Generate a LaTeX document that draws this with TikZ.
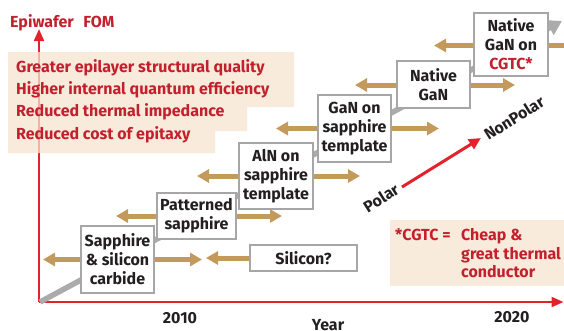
\documentclass[tikz,border=0pt]{standalone}
\usepackage{fontspec}
\setmainfont{Fira Sans}
\usetikzlibrary{arrows.meta}
\definecolor{axisred}{HTML}{E2232C}
\definecolor{txtred}{HTML}{C3202E}
\definecolor{tanc}{HTML}{C49A5C}
\definecolor{beige}{HTML}{F9EBDB}
\definecolor{beigeA}{HTML}{F7E4CF}
\definecolor{arrgray}{HTML}{ABABAB}
\definecolor{boxgray}{HTML}{A6A6A6}
\definecolor{ink}{HTML}{231F20}
\tikzset{
 txt/.style={font=\fontsize{16}{19}\selectfont\bfseries, inner sep=0pt},
 redtxt/.style={txt, text=txtred},
 stage/.style={draw=boxgray, line width=1.3pt, fill=white, txt, text=ink, align=center},
 tanarrow/.style={draw=tanc, line width=5pt, -{Triangle[length=12pt,width=13pt]}},
 axisline/.style={draw=axisred, line width=2pt, -{Triangle[length=12pt,width=10pt]}},
}
\begin{document}
\begin{tikzpicture}[x=1pt,y=-1pt]
\useasboundingbox (0,0) rectangle (564,330);
\clip (0,0) rectangle (564,330);
% axes
\coordinate (O) at (39,302);
\coordinate (ytop) at (39,29);
\coordinate (xend) at (563.5,302);
\draw[axisline] (O) -- (ytop);
\draw[axisline] (O) -- (xend);
% beige benefits box
\fill[beigeA, fill opacity=0.75] (8,52) -- (294,52) -- (294,107) -- (247,107) -- (247,131) -- (215,131) -- (215,153) -- (8,153) -- cycle;
\node[redtxt, anchor=base west] (title) at (10,27) {Epiwafer\hspace{0.6em}FOM};
\node[redtxt, anchor=base west] (l1) at (16,72) {Greater epilayer structural quality};
\node[redtxt, anchor=base west] (l2) at (16,94) {Higher internal quantum efficiency};
\node[redtxt, anchor=base west] (l3) at (16,116.5) {Reduced thermal impedance};
\node[redtxt, anchor=base west] (l4) at (16,139) {Reduced cost of epitaxy};
% gray trend arrow
\coordinate (g0) at (40,302);
\coordinate (g1) at (562,21);
\draw[arrgray, line width=5.5pt, -{Triangle[length=14pt,width=16pt]}] (g0) -- (g1);
% stage boxes
\node[stage, minimum width=73pt, minimum height=67pt] (b1) at (117.5,259.5) {Sapphire\\\& silicon\\carbide};
\node[stage, minimum width=79pt, minimum height=46pt] (b2) at (196.5,216) {Patterned\\sapphire};
\node[stage, minimum width=74pt, minimum height=66pt] (b3) at (276,176) {AlN on\\sapphire\\template};
\node[stage, minimum width=73pt, minimum height=67pt] (b4) at (354.5,128.5) {GaN on\\sapphire\\template};
\node[stage, minimum width=73pt, minimum height=47pt] (b5) at (433.5,84.5) {Native\\GaN};
\node[stage, minimum width=74pt, minimum height=63pt] (b6) at (511,44.5) {Native\\GaN on\\{\color{txtred}CGTC*}};
\node[stage, minimum width=107pt, minimum height=26pt] (b7) at (303.5,258) {Silicon?};
% tan arrows
\coordinate (t1l) at (43,259.5);
\coordinate (t1r) at (202,259.5);
\coordinate (t7l) at (206,258);
\coordinate (t2l) at (116,216);
\coordinate (t2r) at (282,216);
\coordinate (t3l) at (197,176);
\coordinate (t3r) at (360,176);
\coordinate (t4l) at (276,128.5);
\coordinate (t4r) at (439,128.5);
\coordinate (t5l) at (355,85);
\coordinate (t5r) at (515,85);
\coordinate (t6l) at (434,45.5);
\coordinate (t6r) at (575,45.5);
\draw[tanarrow] (b1.west) -- (t1l);
\draw[tanarrow] (b1.east) -- (t1r);
\draw[tanarrow] (b7.west) -- (t7l);
\draw[tanarrow] (b2.west) -- (t2l);
\draw[tanarrow] (b2.east) -- (t2r);
\draw[tanarrow] (b3.west) -- (t3l);
\draw[tanarrow] (b3.east) -- (t3r);
\draw[tanarrow] (b4.west) -- (t4l);
\draw[tanarrow] (b4.east) -- (t4r);
\draw[tanarrow] (b5.west |- t5l) -- (t5l);
\draw[tanarrow] (b5.east |- t5r) -- (t5r);
\draw[tanarrow] (b6.west |- t6l) -- (t6l);
\draw[draw=tanc, line width=5pt] (b6.east |- t6r) -- (t6r);
% polar -> nonpolar
\coordinate (p0) at (402,187);
\coordinate (p1) at (481,138);
\draw[draw=axisred, line width=3pt, -{Triangle[length=12pt,width=11pt]}] (p0) -- (p1);
\node[txt, text=ink, rotate=32] (polar) at (381,198) {Polar};
\node[txt, text=ink, rotate=32] (nonpolar) at (514,118) {NonPolar};
% legend
\fill[beige] (390,220) rectangle (564,286);
\node[redtxt, anchor=base west] (lg1) at (395,240.5) {*CGTC =};
\node[redtxt, anchor=base west] (lg2) at (461,240.5) {Cheap \&};
\node[redtxt, anchor=base west] (lg3) at (461,259) {great thermal};
\node[redtxt, anchor=base west] (lg4) at (461,277.5) {conductor};
% axis labels
\node[txt, text=ink, anchor=base] (y2010) at (180,323) {2010};
\node[txt, text=ink, anchor=base] (y2020) at (512,322) {2020};
\node[txt, text=ink, anchor=base] (year) at (328,330.5) {Year};
\end{tikzpicture}
\end{document}
